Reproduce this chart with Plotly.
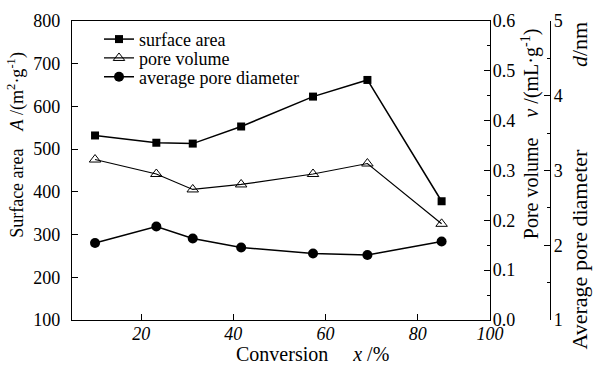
import plotly.graph_objects as go

# Data
conversion = [10.0, 23.3, 31.2, 41.7, 57.3, 69.1, 85.2]
surface_area = [532, 515, 513, 553, 623, 662, 378]
pore_volume = [0.322, 0.293, 0.262, 0.272, 0.293, 0.314, 0.193]
pore_diameter = [2.03, 2.25, 2.09, 1.97, 1.89, 1.87, 2.05]

x_ticks = [20, 40, 60, 80, 95.7]
x_ticktext = ["20", "40", "60", "80", "100"]

FONT = "Liberation Serif"
FS = 18

L, R, T, B = 72, 36, 11, 47
W, H = 593, 367
pw = W - L - R
ph = H - T - B
xdom_end = (490 - L) / pw
y3pos = (550 - L) / pw


def px_x(p):
    return (p - L) / pw


def px_y(p):
    return 1 - (p - T) / ph


fig = go.Figure()
fig.add_trace(go.Scatter(
    x=conversion, y=surface_area, name="surface area", mode="lines+markers",
    line=dict(color="black", width=1.5),
    marker=dict(symbol="square", size=8, color="black"),
    xaxis="x", yaxis="y", legend="legend"))
fig.add_trace(go.Scatter(
    x=conversion, y=pore_volume, name="pore volume", mode="lines+markers",
    line=dict(color="black", width=1.2),
    marker=dict(symbol="triangle-up-open", size=10, color="black", line=dict(width=1)),
    xaxis="x", yaxis="y2", legend="legend2"))
fig.add_trace(go.Scatter(
    x=conversion, y=pore_diameter, name="average pore diameter", mode="lines+markers",
    line=dict(color="black", width=1.5),
    marker=dict(symbol="circle", size=10, color="black"),
    xaxis="x", yaxis="y3", legend="legend3"))

axis_common = dict(showline=True, linecolor="black", linewidth=1.2,
                   ticks="inside", ticklen=6, tickcolor="black", tickwidth=1.2,
                   showgrid=False, zeroline=False,
                   tickfont=dict(family=FONT, size=FS, color="black"))


def leg(ypx):
    return dict(x=px_x(99), y=px_y(ypx), xanchor="left", yanchor="middle",
                bgcolor="rgba(0,0,0,0)", font=dict(family=FONT, size=18, color="black"),
                itemwidth=30, borderwidth=0)


fig.update_layout(
    width=W, height=H,
    margin=dict(l=L, r=R, t=T, b=B),
    paper_bgcolor="white", plot_bgcolor="white",
    font=dict(family=FONT, size=FS, color="black"),
    showlegend=True,
    legend=leg(30), legend2=leg(49.5), legend3=leg(69),
    xaxis=dict(domain=[0, xdom_end], range=[5, 95.7], tickvals=x_ticks,
               ticktext=x_ticktext, mirror=True, anchor="y", ticklabelstandoff=-3,
               **{**axis_common, "tickfont": dict(family=FONT, size=FS, color="black", style="italic")}),
    yaxis=dict(range=[100, 800], dtick=100, anchor="x", ticklabelstandoff=7, **axis_common),
    yaxis2=dict(range=[0, 0.6], dtick=0.1, tickformat=".1f", overlaying="y", side="right",
                anchor="x", ticklabelstandoff=-2,
                minor=dict(dtick=0.05, ticks="inside", ticklen=3, tickcolor="black"),
                **axis_common),
    yaxis3=dict(range=[1, 5], dtick=1, overlaying="y", side="right", anchor="free",
                position=y3pos, ticklabelstandoff=-1,
                minor=dict(dtick=0.5, ticks="inside", ticklen=3, tickcolor="black"),
                **axis_common),
)


def nb(n):
    return "\u00a0" * n


fig.add_annotation(text="Surface area" + nb(4) + "<i>A</i> /(m<sup>2</sup>·g<sup>-1</sup>)",
                   xref="paper", yref="paper", x=px_x(16), y=px_y(139), textangle=-90,
                   showarrow=False, xanchor="center", yanchor="middle",
                   font=dict(family=FONT, size=18))
fig.add_annotation(text="Pore volume" + nb(4) + "<i>v</i> /(mL·g<sup>-1</sup>)",
                   xref="paper", yref="paper", x=px_x(530), y=px_y(128), textangle=-90,
                   showarrow=False, xanchor="center", yanchor="middle",
                   font=dict(family=FONT, size=20))
fig.add_annotation(text="Average pore diameter" + nb(15) + "<i>d</i>/nm",
                   xref="paper", yref="paper", x=px_x(579), y=px_y(181), textangle=-90,
                   showarrow=False, xanchor="center", yanchor="middle",
                   font=dict(family=FONT, size=22))
fig.add_annotation(text="Conversion" + nb(5) + "<i>x</i> /%",
                   xref="paper", yref="paper", x=px_x(312), y=px_y(355),
                   showarrow=False, xanchor="center", yanchor="middle",
                   font=dict(family=FONT, size=20))

fig.write_html("out.html")
